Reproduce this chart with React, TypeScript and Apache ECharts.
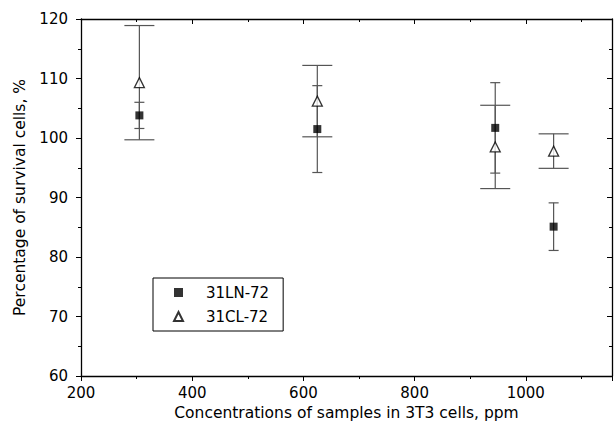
import React, { useEffect, useRef } from "react";
import * as echarts from "echarts";

const xValues = [305, 625, 945, 1050];
const lnValues = [103.8, 101.5, 101.7, 85.1];
const lnErrors = [2.2, 7.3, 7.6, 4.0];
const clValues = [109.3, 106.2, 98.5, 97.8];
const clErrors = [9.6, 6.0, 7.0, 2.9];
const xTicks = [200, 400, 600, 800, 1000];
const seriesNames = ["31LN-72", "31CL-72"];

const FONT = "DejaVu Sans, Liberation Sans, Arial, sans-serif";

function errorSeries(values: number[], errors: number[], capHalf: number) {
  return {
    type: "custom",
    silent: true,
    z: 1,
    data: xValues.map((x, i) => [x, values[i], errors[i]]),
    renderItem: (params: any, api: any) => {
      const x = api.value(0);
      const y = api.value(1);
      const e = api.value(2);
      const top = api.coord([x, y + e]);
      const bot = api.coord([x, y - e]);
      const style = { stroke: "#555", lineWidth: 1.2 };
      return {
        type: "group",
        children: [
          { type: "line", shape: { x1: top[0], y1: top[1], x2: bot[0], y2: bot[1] }, style },
          { type: "line", shape: { x1: top[0] - capHalf, y1: top[1], x2: top[0] + capHalf, y2: top[1] }, style },
          { type: "line", shape: { x1: bot[0] - capHalf, y1: bot[1], x2: bot[0] + capHalf, y2: bot[1] }, style },
        ],
      };
    },
  };
}

export default function App() {
  const ref = useRef<HTMLDivElement>(null);
  useEffect(() => {
    if (!ref.current) return;
    const chart = echarts.init(ref.current, null, { renderer: "svg" });
    const axisLine = { show: true, lineStyle: { color: "#000", width: 1.3 } };
    chart.setOption({
      animation: false,
      backgroundColor: "#fff",
      grid: { left: 81, top: 19, width: 533, height: 357, containLabel: false },
      legend: {
        data: seriesNames,
        orient: "vertical",
        left: 153,
        top: 278,
        backgroundColor: "#fff",
        borderColor: "#000",
        borderWidth: 1,
        padding: [7, 14, 7, 20],
        itemWidth: 9,
        itemHeight: 9,
        itemGap: 9,
        textStyle: { fontFamily: FONT, fontSize: 15, color: "#000", padding: [0, 0, 0, 18] },
      },
      xAxis: [
        {
          type: "value",
          min: 200,
          max: 1155,
          interval: 200,
          position: "bottom",
          name: "Concentrations of samples in 3T3 cells, ppm",
          nameLocation: "middle",
          nameGap: 27,
          nameTextStyle: { fontFamily: FONT, fontSize: 15.5, color: "#000" },
          axisLine,
          axisTick: { show: true, length: 5, inside: false, lineStyle: { color: "#000" } },
          minorTick: { show: true, splitNumber: 2, length: 3, lineStyle: { color: "#000" } },
          axisLabel: {
            fontFamily: FONT,
            fontSize: 15,
            color: "#000",
            margin: 9,
            formatter: (v: number) => (xTicks.includes(v) ? String(v) : ""),
          },
          splitLine: { show: false },
        },
        {
          type: "value",
          min: 200,
          max: 1155,
          interval: 200,
          position: "top",
          axisLine,
          axisTick: { show: true, length: 5, inside: true, lineStyle: { color: "#000" } },
          minorTick: { show: true, splitNumber: 2, length: 3, lineStyle: { color: "#000" } },
          axisLabel: { show: false },
          splitLine: { show: false },
        },
      ],
      yAxis: [
        {
          type: "value",
          min: 60,
          max: 120,
          interval: 10,
          position: "left",
          name: "Percentage of survival cells, %",
          nameLocation: "middle",
          nameGap: 53,
          nameTextStyle: { fontFamily: FONT, fontSize: 15.5, color: "#000" },
          axisLine,
          axisTick: { show: true, length: 5, inside: false, lineStyle: { color: "#000" } },
          minorTick: { show: true, splitNumber: 2, length: 3, lineStyle: { color: "#000" } },
          axisLabel: { fontFamily: FONT, fontSize: 15, color: "#000", margin: 13 },
          splitLine: { show: false },
        },
        {
          type: "value",
          min: 60,
          max: 120,
          interval: 10,
          position: "right",
          axisLine,
          axisTick: { show: true, length: 5, inside: true, lineStyle: { color: "#000" } },
          minorTick: { show: true, splitNumber: 2, length: 3, lineStyle: { color: "#000" } },
          axisLabel: { show: false },
          splitLine: { show: false },
        },
      ],
      series: [
        errorSeries(lnValues, lnErrors, 5),
        errorSeries(clValues, clErrors, 15),
        {
          name: seriesNames[0],
          type: "scatter",
          z: 3,
          symbol: "rect",
          symbolSize: 8,
          itemStyle: { color: "#000" },
          data: xValues.map((x, i) => [x, lnValues[i]]),
        },
        {
          name: seriesNames[1],
          type: "scatter",
          z: 3,
          symbol: "triangle",
          symbolSize: 10,
          itemStyle: { color: "#fff", borderColor: "#000", borderWidth: 1.3 },
          data: xValues.map((x, i) => [x, clValues[i]]),
        },
      ],
    });
    return () => chart.dispose();
  }, []);
  return (
    <div
      ref={ref}
      style={{ position: "absolute", left: 0, top: 0, width: 615, height: 432 }}
    />
  );
}
